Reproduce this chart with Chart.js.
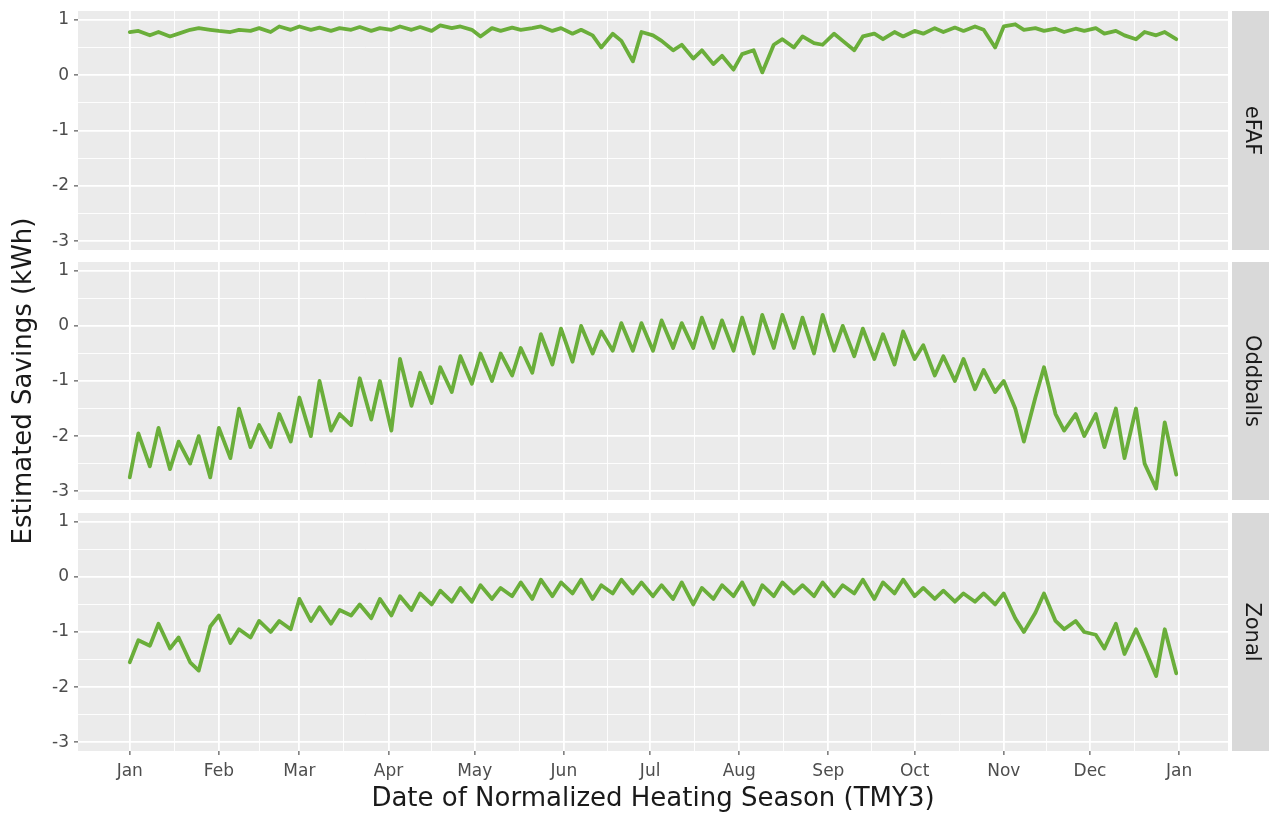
<!DOCTYPE html>
<html>
<head>
<meta charset="utf-8">
<script src="https://cdn.jsdelivr.net/npm/chart.js@4.4.1/dist/chart.umd.min.js"></script>
<style>
  html, body { margin: 0; padding: 0; background: #ffffff; }
  #wrap { position: relative; width: 1269px; height: 815px; overflow: hidden; }
  #wrap canvas { position: absolute; left: 0; }
</style>
</head>
<body>
<div id="wrap">
  <canvas id="c1" width="1269" height="252" style="top:0px"></canvas>
  <canvas id="c3" width="1269" height="313" style="top:502px"></canvas>
  <canvas id="c2" width="1269" height="815" style="top:0px"></canvas>
</div>
<script>
// Day of the normalized heating season (0 = Jan 1)
const days = [
  0, 3, 7, 10, 14, 17, 21, 24, 28, 31, 35, 38, 42, 45, 49, 52, 56, 59, 63, 66,
  70, 73, 77, 80, 84, 87, 91, 94, 98, 101, 105, 108, 112, 115, 119, 122, 126, 129, 133, 136,
  140, 143, 147, 150, 154, 157, 161, 164, 168, 171, 175, 178, 182, 185, 189, 192, 196, 199, 203, 206,
  210, 213, 217, 220, 224, 227, 231, 234, 238, 241, 245, 248, 252, 255, 259, 262, 266, 269, 273, 276,
  280, 283, 287, 290, 294, 297, 301, 304, 308, 311, 315, 318, 322, 325, 329, 332, 336, 339, 343, 346,
  350, 353, 357, 360, 364
];

// Month boundaries on the day axis and their labels
const monthTicks = [0, 31, 59, 90, 120, 151, 181, 212, 243, 273, 304, 334, 365];
const monthLabels = ['Jan', 'Feb', 'Mar', 'Apr', 'May', 'Jun', 'Jul', 'Aug', 'Sep', 'Oct', 'Nov', 'Dec', 'Jan'];
const yTicks = [-3, -2, -1, 0, 1];

const facetNames = ['eFAF', 'Oddballs', 'Zonal'];

// Estimated savings (kWh) per facet
const eFAF = [
  0.78, 0.80, 0.72, 0.78, 0.70, 0.75, 0.82, 0.85, 0.82, 0.80,
  0.78, 0.82, 0.80, 0.85, 0.78, 0.88, 0.82, 0.88, 0.82, 0.86,
  0.80, 0.85, 0.82, 0.87, 0.80, 0.85, 0.82, 0.88, 0.82, 0.87,
  0.80, 0.90, 0.85, 0.88, 0.82, 0.70, 0.85, 0.80, 0.86, 0.82,
  0.85, 0.88, 0.80, 0.85, 0.75, 0.82, 0.72, 0.50, 0.75, 0.62,
  0.25, 0.78, 0.72, 0.62, 0.45, 0.55, 0.30, 0.45, 0.20, 0.35,
  0.10, 0.38, 0.45, 0.05, 0.55, 0.65, 0.50, 0.70, 0.58, 0.55,
  0.75, 0.62, 0.45, 0.70, 0.75, 0.65, 0.78, 0.70, 0.80, 0.75,
  0.85, 0.78, 0.86, 0.80, 0.88, 0.82, 0.50, 0.88, 0.92, 0.82,
  0.85, 0.80, 0.84, 0.78, 0.84, 0.80, 0.85, 0.75, 0.80, 0.72,
  0.65, 0.78, 0.72, 0.78, 0.65
];

const oddballs = [
  -2.75, -1.95, -2.55, -1.85, -2.60, -2.10, -2.50, -2.00, -2.75, -1.85,
  -2.40, -1.50, -2.20, -1.80, -2.20, -1.60, -2.10, -1.30, -2.00, -1.00,
  -1.90, -1.60, -1.80, -0.95, -1.70, -1.00, -1.90, -0.60, -1.45, -0.85,
  -1.40, -0.75, -1.20, -0.55, -1.05, -0.50, -1.00, -0.50, -0.90, -0.40,
  -0.85, -0.15, -0.70, -0.05, -0.65, 0.00, -0.50, -0.10, -0.45, 0.05,
  -0.45, 0.05, -0.45, 0.10, -0.40, 0.05, -0.40, 0.15, -0.40, 0.10,
  -0.45, 0.15, -0.50, 0.20, -0.40, 0.20, -0.40, 0.15, -0.50, 0.20,
  -0.45, 0.00, -0.55, -0.05, -0.60, -0.15, -0.70, -0.10, -0.60, -0.35,
  -0.90, -0.55, -1.00, -0.60, -1.15, -0.80, -1.20, -1.00, -1.50, -2.10,
  -1.30, -0.75, -1.60, -1.90, -1.60, -2.00, -1.60, -2.20, -1.50, -2.40,
  -1.50, -2.50, -2.95, -1.75, -2.70
];

const zonal = [
  -1.55, -1.15, -1.25, -0.85, -1.30, -1.10, -1.55, -1.70, -0.90, -0.70,
  -1.20, -0.95, -1.10, -0.80, -1.00, -0.80, -0.95, -0.40, -0.80, -0.55,
  -0.85, -0.60, -0.70, -0.50, -0.75, -0.40, -0.70, -0.35, -0.60, -0.30,
  -0.50, -0.25, -0.45, -0.20, -0.45, -0.15, -0.40, -0.20, -0.35, -0.10,
  -0.40, -0.05, -0.35, -0.10, -0.30, -0.05, -0.40, -0.15, -0.30, -0.05,
  -0.30, -0.10, -0.35, -0.15, -0.40, -0.10, -0.50, -0.20, -0.40, -0.15,
  -0.35, -0.10, -0.50, -0.15, -0.35, -0.10, -0.30, -0.15, -0.35, -0.10,
  -0.35, -0.15, -0.30, -0.05, -0.40, -0.10, -0.30, -0.05, -0.35, -0.20,
  -0.40, -0.25, -0.45, -0.30, -0.45, -0.30, -0.50, -0.30, -0.75, -1.00,
  -0.65, -0.30, -0.80, -0.95, -0.80, -1.00, -1.05, -1.30, -0.85, -1.40,
  -0.95, -1.30, -1.80, -0.95, -1.75
];

const FONT = 'DejaVu Sans';
const LINE_COLOR = '#6aae3a';
const PANEL_BG = '#ebebeb';
const STRIP_BG = '#d9d9d9';

// Minor breaks sit halfway between neighbouring major breaks
function withMinor(major) {
  const out = [];
  for (let i = 0; i < major.length; i++) {
    out.push(major[i]);
    if (i < major.length - 1) out.push((major[i] + major[i + 1]) / 2);
  }
  return out;
}

const panelBackground = {
  id: 'panelBackground',
  beforeDraw(chart) {
    const { ctx, chartArea: a } = chart;
    ctx.save();
    ctx.fillStyle = PANEL_BG;
    ctx.fillRect(a.left, a.top, a.right - a.left, a.bottom - a.top);
    ctx.restore();
  }
};

const facetStrip = {
  id: 'facetStrip',
  afterDraw(chart, args, opts) {
    const { ctx, chartArea: a } = chart;
    const x0 = a.right + 4;
    const w = chart.width - x0;
    ctx.save();
    ctx.fillStyle = STRIP_BG;
    ctx.fillRect(x0, a.top, w, a.bottom - a.top);
    ctx.translate(x0 + 19, (a.top + a.bottom) / 2);
    ctx.rotate(Math.PI / 2);
    ctx.fillStyle = '#1a1a1a';
    ctx.font = '21px "' + FONT + '"';
    ctx.textAlign = 'center';
    ctx.textBaseline = 'middle';
    ctx.fillText(opts.label, 0, 0);
    ctx.restore();
  }
};

function makeFacet(canvasId, label, values, opt) {
  const points = days.map((d, i) => ({ x: d, y: values[i] }));
  const xMajor = monthTicks;
  const yMajor = yTicks;
  return new Chart(document.getElementById(canvasId), {
    type: 'line',
    data: {
      datasets: [{
        data: points,
        borderColor: LINE_COLOR,
        borderWidth: 3.8,
        pointRadius: 0,
        tension: 0,
        borderJoinStyle: 'round',
        borderCapStyle: 'round',
        fill: false
      }]
    },
    options: {
      responsive: false,
      animation: false,
      devicePixelRatio: 1,
      layout: { padding: { left: 0, right: 1269 - 1228, top: opt.padTop, bottom: opt.padBottom } },
      plugins: {
        legend: { display: false },
        tooltip: { enabled: false },
        facetStrip: { label: label }
      },
      scales: {
        x: {
          type: 'linear',
          min: -18,
          max: 382,
          afterBuildTicks(scale) {
            scale.ticks = withMinor(xMajor).map(v => ({ value: v }));
          },
          afterFit(scale) {
            scale.height = opt.showX ? 64 : 0;
            scale.paddingLeft = 0;
            scale.paddingRight = 0;
          },
          border: { display: false },
          grid: {
            color: '#ffffff',
            lineWidth: c => (xMajor.includes(c.tick.value) ? 1.8 : 0.9),
            drawTicks: opt.showX,
            tickLength: 4,
            tickColor: c => (xMajor.includes(c.tick.value) ? '#333333' : 'rgba(0,0,0,0)'),
            tickWidth: 1
          },
          ticks: {
            display: opt.showX,
            autoSkip: false,
            maxRotation: 0,
            padding: 6,
            color: '#4d4d4d',
            font: { family: FONT, size: 17 },
            callback: v => {
              const i = xMajor.indexOf(v);
              return i >= 0 ? monthLabels[i] : '';
            }
          },
          title: {
            display: opt.showX,
            text: 'Date of Normalized Heating Season (TMY3)',
            color: '#1a1a1a',
            font: { family: FONT, size: 26 },
            padding: { top: 0, bottom: 0 }
          }
        },
        y: {
          type: 'linear',
          min: -3.16,
          max: 1.16,
          afterBuildTicks(scale) {
            scale.ticks = withMinor(yMajor).map(v => ({ value: v }));
          },
          afterFit(scale) {
            scale.width = 78;
            scale.paddingTop = 0;
            scale.paddingBottom = 0;
          },
          border: { display: false },
          grid: {
            color: '#ffffff',
            lineWidth: c => (Number.isInteger(c.tick.value) ? 1.8 : 0.9),
            drawTicks: true,
            tickLength: 4,
            tickColor: c => (Number.isInteger(c.tick.value) ? '#333333' : 'rgba(0,0,0,0)'),
            tickWidth: 1
          },
          ticks: {
            autoSkip: false,
            padding: 5,
            color: '#4d4d4d',
            font: { family: FONT, size: 17 },
            callback: v => (Number.isInteger(v) ? String(v) : '')
          },
          title: {
            display: opt.showYTitle,
            text: 'Estimated Savings (kWh)',
            color: '#1a1a1a',
            font: { family: FONT, size: 26 },
            padding: { top: 9, bottom: 0 }
          }
        }
      }
    },
    plugins: [panelBackground, facetStrip]
  });
}

makeFacet('c1', facetNames[0], eFAF,     { padTop: 11, padBottom: 2, showX: false, showYTitle: false });
makeFacet('c2', facetNames[1], oddballs, { padTop: 262, padBottom: 815 - 500, showX: false, showYTitle: true });
makeFacet('c3', facetNames[2], zonal,    { padTop: 11, padBottom: 0, showX: true,  showYTitle: false });
</script>
</body>
</html>
